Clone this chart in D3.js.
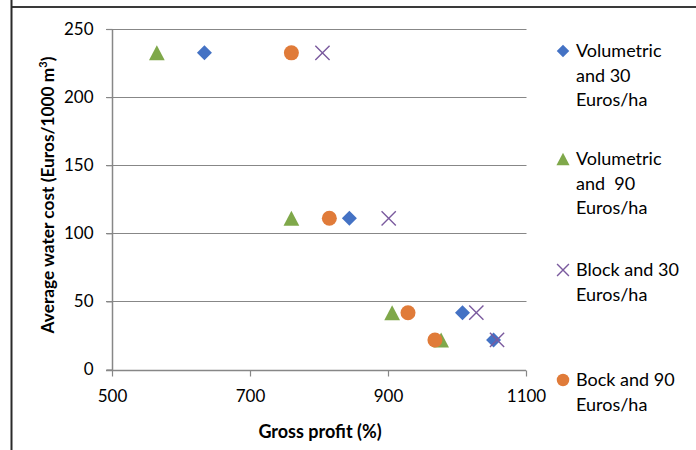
<!DOCTYPE html>
<html><head><meta charset="utf-8">
<script src="https://cdn.jsdelivr.net/npm/d3@7"></script>
<style>
html,body{margin:0;padding:0;background:#fff;}
svg{display:block;font-family:Lato, "Open Sans", sans-serif;}
</style></head>
<body>
<svg id="c" width="696" height="450"></svg>
<script>
const seriesNames = ["Volumetric and 30 Euros/ha","Volumetric and  90 Euros/ha","Block and 30 Euros/ha","Bock and 90 Euros/ha"];
const legendLines = [["Volumetric","and 30","Euros/ha"],["Volumetric","and  90","Euros/ha"],["Block and 30","Euros/ha"],["Bock and 90","Euros/ha"]];
const seriesColors = ["#4472C4","#7FA84A","#7A5A9E","#E07B39"];
const seriesShapes = ["diamond","triangle","cross","circle"];
const waterCost = [232.5, 111, 41.7, 21.7];
const profitVol30 = [634, 844, 1008, 1053];
const profitVol90 = [565, 760, 906, 977];
const profitBlock30 = [805, 901, 1028, 1058];
const profitBlock90 = [760, 815, 929, 968];
const xTicks = [500, 700, 900, 1100];
const yTicks = [0, 50, 100, 150, 200, 250];
const seriesValues = [profitVol30, profitVol90, profitBlock30, profitBlock90];

const svg = d3.select("#c");
const x = d3.scaleLinear().domain([500,1100]).range([112,526]);
const y = d3.scaleLinear().domain([0,250]).range([369.5,29]);
const grid = "#878787";

// frame lines
svg.append("line").attr("x1",11).attr("x2",696).attr("y1",7).attr("y2",7).attr("stroke","#3a3a3a").attr("stroke-width",2.2);
svg.append("line").attr("x1",11.5).attr("x2",11.5).attr("y1",0).attr("y2",450).attr("stroke","#2a2a2a").attr("stroke-width",2);

// gridlines
svg.append("g").selectAll("line").data(yTicks.filter(d=>d>0)).join("line")
  .attr("x1",106).attr("x2",526.5).attr("y1",d=>Math.round(y(d))+0.5).attr("y2",d=>Math.round(y(d))+0.5)
  .attr("stroke",grid).attr("stroke-width",1.2);

// y axis
const yAxis = svg.append("g").attr("transform","translate(112.5,0)")
  .call(d3.axisLeft(y).tickValues(yTicks).tickSize(6).tickPadding(13));
yAxis.select(".domain").attr("stroke",grid).attr("stroke-width",1.5).attr("d","M0,"+y(250)+"V"+(y(0)+0.5));
yAxis.selectAll(".tick line").attr("stroke",grid).attr("stroke-width",1.2);
yAxis.selectAll(".tick text").attr("fill","#000").style("font-size","17px").style("font-family","Lato, sans-serif");

// x axis
const xAxis = svg.append("g").attr("transform","translate(0,"+(Math.round(y(0))+0.5)+")")
  .call(d3.axisBottom(x).tickValues(xTicks).tickSize(6).tickPadding(13).tickFormat(d3.format("d")));
xAxis.select(".domain").attr("stroke",grid).attr("stroke-width",1.5).attr("d","M106,0H"+x(1100));
xAxis.selectAll(".tick line").attr("stroke",grid).attr("stroke-width",1.2);
xAxis.selectAll(".tick text").attr("fill","#000").style("font-size","17px").style("font-family","Lato, sans-serif");

// axis titles
svg.append("text").attr("x",320).attr("y",438).attr("text-anchor","middle")
  .style("font-size","18px").style("font-weight","bold").text("Gross profit (%)");
const yl = svg.append("text").attr("transform","translate(54,195) rotate(-90)").attr("text-anchor","middle")
  .style("font-size","17.3px").style("font-weight","bold");
yl.append("tspan").text("Average water cost (Euros/1000 m");
yl.append("tspan").attr("dy",-7).style("font-size","11px").text("3");
yl.append("tspan").attr("dy",7).text(")");

function drawMarker(g, shape, color, cx, cy, s){
  const h = s/2;
  if(shape==="diamond"){
    g.append("path").attr("d",`M${cx},${cy-h}L${cx+h},${cy}L${cx},${cy+h}L${cx-h},${cy}Z`).attr("fill",color);
  } else if(shape==="triangle"){
    g.append("path").attr("d",`M${cx},${cy-h}L${cx+h*1.05},${cy+h}L${cx-h*1.05},${cy+h}Z`).attr("fill",color);
  } else if(shape==="circle"){
    g.append("circle").attr("cx",cx).attr("cy",cy).attr("r",h).attr("fill",color);
  } else {
    const k = h*0.95;
    g.append("path").attr("d",`M${cx-k},${cy-k}L${cx+k},${cy+k}M${cx-k},${cy+k}L${cx+k},${cy-k}`)
      .attr("stroke",color).attr("stroke-width",1.4).attr("fill","none");
  }
}

// points: draw order so overlaps resemble the reference
const drawOrder = [1,3,0,2];
drawOrder.forEach(si=>{
  const g = svg.append("g");
  seriesValues[si].forEach((v,i)=>drawMarker(g, seriesShapes[si], seriesColors[si], x(v), y(waterCost[i]), 15));
});

// legend
const legendY = [51, 159, 270, 380];
legendLines.forEach((lines,i)=>{
  const g = svg.append("g");
  drawMarker(svg.append("g"), seriesShapes[i], seriesColors[i], 563, legendY[i], 12.5);
  lines.forEach((t,j)=>{
    g.append("text").attr("x",576).attr("y",legendY[i]+j*24.3).attr("dy","0.35em")
      .style("font-size","18px").style("white-space","pre").attr("xml:space","preserve").text(t);
  });
});
</script>
</body></html>
